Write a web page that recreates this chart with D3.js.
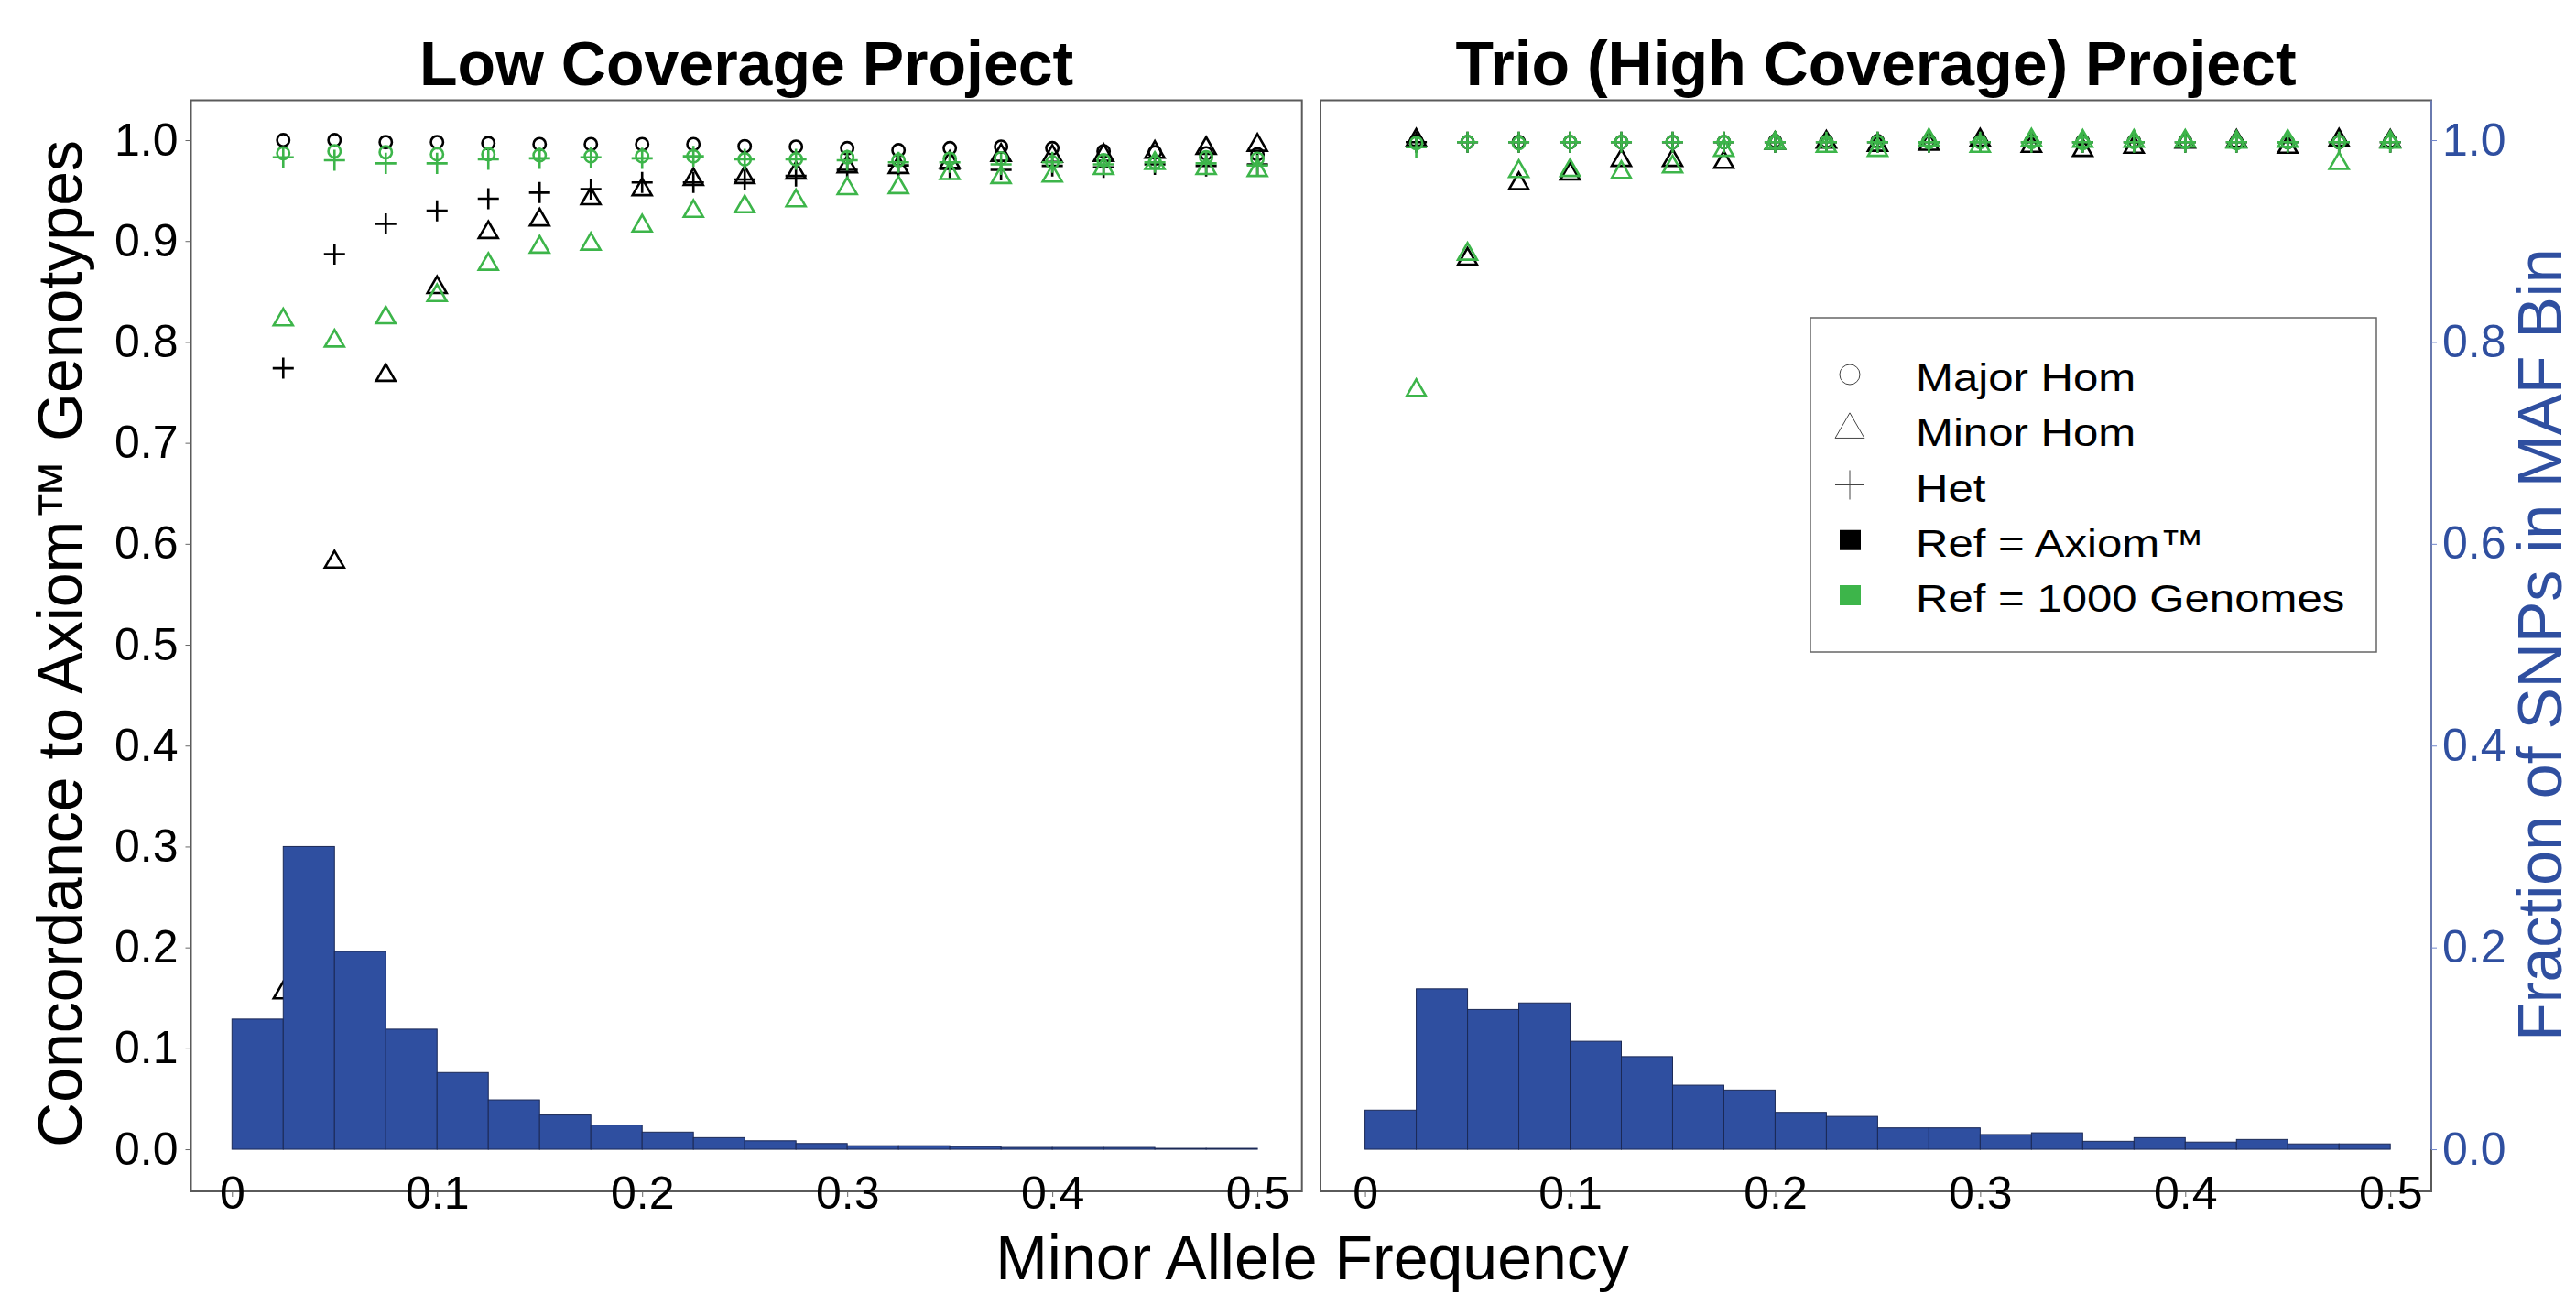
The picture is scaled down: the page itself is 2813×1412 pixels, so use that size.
<!DOCTYPE html>
<html>
<head>
<meta charset="utf-8">
<script src="https://cdn.jsdelivr.net/npm/d3@7"></script>
<style>
  body { margin: 0; background: #fff; }
  svg { display: block; font-family: "Liberation Sans", Arial, sans-serif; }
</style>
</head>
<body>
<script>
// minor allele frequency bins (point positions = upper bin edge)
const maf = [0.025, 0.05, 0.075, 0.1, 0.125, 0.15, 0.175, 0.2, 0.225, 0.25,
             0.275, 0.3, 0.325, 0.35, 0.375, 0.4, 0.425, 0.45, 0.475, 0.5];
const binEdges = [0, 0.025, 0.05, 0.075, 0.1, 0.125, 0.15, 0.175, 0.2, 0.225, 0.25,
                  0.275, 0.3, 0.325, 0.35, 0.375, 0.4, 0.425, 0.45, 0.475, 0.5];
const xTicks = [0, 0.1, 0.2, 0.3, 0.4, 0.5];
const xTickLabels = ["0", "0.1", "0.2", "0.3", "0.4", "0.5"];
const leftTicks = [0, 0.1, 0.2, 0.3, 0.4, 0.5, 0.6, 0.7, 0.8, 0.9, 1.0];
const rightTicks = [0, 0.2, 0.4, 0.6, 0.8, 1.0];

// Low Coverage Project
const lowMajorAxiom = [1.000, 1.000, .998, .998, .997, .996, .996, .996, .996, .994,
                       .9935, .992, .990, .992, .9935, .992, .989, .988, .987, .986];
const lowMajorKG    = [.987, .989, .988, .986, .986, .985, .984, .984, .984, .981,
                       .981, .983, .980, .9815, .982, .978, .980, .978, .983, .9815];
const lowMinorAxiom = [.155, .582, .767, .854, .9085, .921, .942, .951, .961, .963,
                       .9675, .9735, .973, .978, .985, .984, .985, .988, .992, .995];
const lowMinorKG    = [.822, .801, .824, .846, .877, .894, .897, .915, .9295, .934,
                       .940, .952, .953, .967, .963, .9645, .972, .977, .972, .970];
const lowHetAxiom   = [.774, .887, .917, .930, .942, .948, .9515, .958, .958, .961,
                       .9645, .9705, .975, .9715, .9705, .9745, .973, .976, .9745, .976];
const lowHetKG      = [.983, .980, .977, .977, .981, .982, .983, .982, .984, .981,
                       .981, .980, .978, .978, .976, .978, .976, .978, .977, .975];
const lowBins = [0.129, 0.300, 0.196, 0.119, 0.076, 0.049, 0.034, 0.024, 0.017, 0.0115,
                 0.0084, 0.0057, 0.0035, 0.0035, 0.0026, 0.0018, 0.0018, 0.0018, 0.0009, 0.0009];

// Trio (High Coverage) Project
const trioMajorAxiom = [.999, .998, .998, .998, .998, .998, .998, .999, .999, .999,
                        .9995, .999, .999, .999, .999, .999, .998, .998, .998, .999];
const trioMajorKG    = [.997, .998, .997, .998, .998, .998, .998, .998, .998, .998,
                        .998, .998, .998, .997, .998, .998, .997, .998, .998, .998];
const trioMinorAxiom = [1.000, .882, .957, .9665, .980, .980, .978, .997, .998, .995,
                        .996, 1.000, .994, .990, .993, .998, .999, .993, 1.000, .999];
const trioMinorKG    = [.752, .887, .969, .970, .968, .9735, .990, .997, .994, .990,
                        1.000, .994, 1.000, .999, .999, .999, .998, .999, .977, .998];
const trioHetAxiom   = [.998, .998, .998, .998, .998, .998, .998, .998, .998, .998,
                        .998, .998, .998, .998, .998, .998, .998, .998, .998, .998];
const trioHetKG      = [.993, .998, .998, .998, .998, .998, .998, .998, .998, .998,
                        .998, .998, .998, .998, .998, .998, .998, .998, .998, .998];
const trioBins = [0.0388, 0.159, 0.1385, 0.145, 0.107, 0.0918, 0.0635, 0.0587, 0.0366, 0.0326,
                  0.0212, 0.0212, 0.0146, 0.0163, 0.0079, 0.0115, 0.0071, 0.0097, 0.0053, 0.0053];

const legendLabels = ["Major Hom", "Minor Hom", "Het", "Ref = Axiom\u2122", "Ref = 1000 Genomes"];

const BLACK = "#000000", GREEN = "#3db54a", BAR = "#2f4fa0", BLUE = "#2f4fa0", AXISBLUE = "#7086cc";

const W = 2813, H = 1412;
const svg = d3.select("body").append("svg").attr("width", W).attr("height", H);
svg.append("rect").attr("width", W).attr("height", H).attr("fill", "#fff");

const plotTop = 109.5, plotBottom = 1301;
const y = d3.scaleLinear().domain([-0.0417, 1.0395]).range([plotBottom, plotTop]);

const panels = [
  {title: "Low Coverage Project", x: d3.scaleLinear().domain([-0.02, 0.5217]).range([208.5, 1421.7]),
   series: [[lowMajorAxiom, "circle", BLACK], [lowMinorAxiom, "triangle", BLACK], [lowHetAxiom, "plus", BLACK],
            [lowMajorKG, "circle", GREEN], [lowMinorKG, "triangle", GREEN], [lowHetKG, "plus", GREEN]],
   bins: lowBins, leftAxis: true},
  {title: "Trio (High Coverage) Project", x: d3.scaleLinear().domain([-0.0217, 0.52]).range([1442, 2655]),
   series: [[trioMajorAxiom, "circle", BLACK], [trioMinorAxiom, "triangle", BLACK], [trioHetAxiom, "plus", BLACK],
            [trioMajorKG, "circle", GREEN], [trioMinorKG, "triangle", GREEN], [trioHetKG, "plus", GREEN]],
   bins: trioBins, rightAxis: true}
];

const symbolFor = {
  circle: d3.symbol(d3.symbolCircle, 140),
  triangle: d3.symbol(d3.symbolTriangle, 190),
  plus: d3.symbol(d3.symbolPlus, 175)
};

panels.forEach(p => {
  const [x0, x1] = p.x.range();
  const g = svg.append("g");

  // points
  p.series.forEach(([vals, shape, col]) => {
    g.append("g").selectAll("path")
      .data(vals.map((v, i) => ({x: maf[i], v})))
      .join("path")
      .attr("transform", d => `translate(${p.x(d.x)},${y(d.v)})`)
      .attr("d", symbolFor[shape]())
      .attr("fill", "none")
      .attr("stroke", col)
      .attr("stroke-width", 2.6);
  });

  // histogram of SNP fraction per MAF bin
  g.append("g").selectAll("rect")
    .data(p.bins.map((v, i) => ({a: binEdges[i], b: binEdges[i + 1], v})))
    .join("rect")
    .attr("x", d => p.x(d.a))
    .attr("width", d => p.x(d.b) - p.x(d.a))
    .attr("y", d => y(d.v))
    .attr("height", d => y(0) - y(d.v))
    .attr("fill", BAR)
    .attr("stroke", "#1b2956")
    .attr("stroke-width", 1);

  // frame
  g.append("rect")
    .attr("x", x0).attr("y", plotTop).attr("width", x1 - x0).attr("height", plotBottom - plotTop)
    .attr("fill", "none").attr("stroke", "#5a5a5a").attr("stroke-width", 2);

  // x axis
  const xa = g.append("g").attr("transform", `translate(0,${plotBottom})`)
    .call(d3.axisBottom(p.x).tickValues(xTicks).tickSize(6).tickFormat((d, i) => xTickLabels[i]));
  xa.select(".domain").remove();
  xa.selectAll("line").attr("stroke", "#666");
  xa.selectAll("text").attr("y", -17).attr("dy", 0).attr("fill", "#000")
    .style("font-size", "50px").style("font-family", "Liberation Sans, Arial, sans-serif")
    .attr("dominant-baseline", "hanging");

  if (p.leftAxis) {
    const ya = g.append("g").attr("transform", `translate(${x0},0)`)
      .call(d3.axisLeft(y).tickValues(leftTicks).tickSize(6).tickPadding(8).tickFormat(d3.format(".1f")));
    ya.select(".domain").remove();
    ya.selectAll("line").attr("stroke", "#666");
    ya.selectAll("text").attr("fill", "#000").style("font-size", "50px")
      .style("font-family", "Liberation Sans, Arial, sans-serif");
  }
  if (p.rightAxis) {
    const ya = g.append("g").attr("transform", `translate(${x1},0)`)
      .call(d3.axisRight(y).tickValues(rightTicks).tickSize(6).tickPadding(6).tickFormat(d3.format(".1f")));
    ya.select(".domain").remove();
    ya.selectAll("line").attr("stroke", AXISBLUE);
    ya.selectAll("text").attr("fill", BLUE).style("font-size", "50px")
      .style("font-family", "Liberation Sans, Arial, sans-serif");
    g.append("line").attr("x1", x1).attr("x2", x1).attr("y1", plotTop).attr("y2", y(0))
      .attr("stroke", AXISBLUE).attr("stroke-width", 1.5);
  }

  // panel title
  svg.append("text")
    .attr("x", (x0 + x1) / 2).attr("y", 93)
    .attr("text-anchor", "middle")
    .style("font-size", "68px").style("font-weight", "bold")
    .text(p.title);
});

// axis titles
svg.append("text")
  .attr("transform", `translate(89,703) rotate(-90)`)
  .attr("text-anchor", "middle")
  .style("font-size", "68px")
  .text("Concordance to Axiom\u2122 Genotypes");

svg.append("text")
  .attr("transform", `translate(2797,704) rotate(-90)`)
  .attr("text-anchor", "middle")
  .attr("fill", BLUE)
  .style("font-size", "68px")
  .text("Fraction of SNPs in MAF Bin");

svg.append("text")
  .attr("x", 1433).attr("y", 1397)
  .attr("text-anchor", "middle")
  .style("font-size", "68px")
  .text("Minor Allele Frequency");

// legend
const lg = svg.append("g");
lg.append("rect").attr("x", 1977).attr("y", 347).attr("width", 618).attr("height", 365)
  .attr("fill", "#fff").attr("stroke", "#666").attr("stroke-width", 1.5);
const rowY = d3.scalePoint().domain(legendLabels).range([409, 650]);
const legendMarks = [
  {type: "circle", col: null}, {type: "triangle", col: null}, {type: "plus", col: null},
  {type: "square", col: BLACK}, {type: "square", col: GREEN}
];
const legendSym = {
  circle: d3.symbol(d3.symbolCircle, 380),
  triangle: d3.symbol(d3.symbolTriangle, 440),
  plus: d3.symbol(d3.symbolPlus, 336)
};
legendLabels.forEach((lab, i) => {
  const m = legendMarks[i];
  const cy = rowY(lab);
  if (m.type === "square") {
    lg.append("rect").attr("x", 2009).attr("y", cy - 11).attr("width", 23).attr("height", 22).attr("fill", m.col);
  } else {
    lg.append("path").attr("transform", `translate(2020,${cy})`).attr("d", legendSym[m.type]())
      .attr("fill", "none").attr("stroke", "#444").attr("stroke-width", 1);
  }
  lg.append("text").attr("transform", `translate(2092,${cy + 18}) scale(1.17,1)`)
    .style("font-size", "42px").text(lab);
});
</script>
</body>
</html>
